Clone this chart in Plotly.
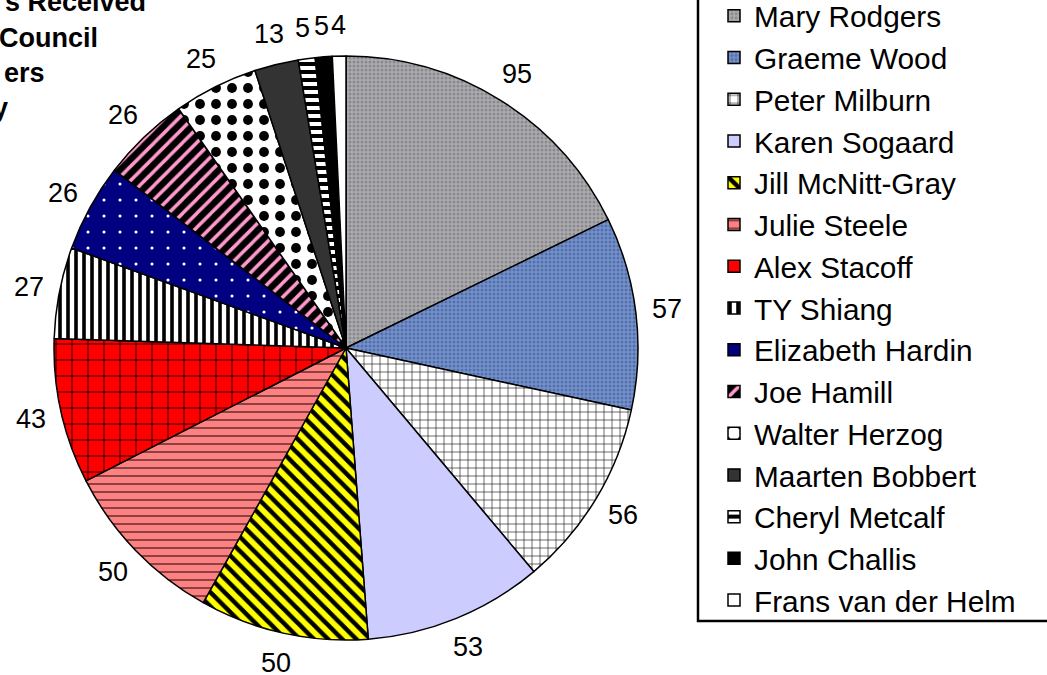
import math
import plotly.graph_objects as go

names = ["Mary Rodgers", "Graeme Wood", "Peter Milburn", "Karen Sogaard",
         "Jill McNitt-Gray", "Julie Steele", "Alex Stacoff", "TY Shiang",
         "Elizabeth Hardin", "Joe Hamill", "Walter Herzog", "Maarten Bobbert",
         "Cheryl Metcalf", "John Challis", "Frans van der Helm"]
votes = [95, 57, 56, 53, 50, 50, 43, 27, 26, 26, 25, 13, 5, 5, 4]
title_parts = ["s Received", "Council", "ers", "y"]

bg = ["#ADADB1", "#7592CC", "#FFFFFF", "#CCCCFF", "#FFFF00", "#FF8080", "#FF0000",
      "#FFFFFF", "#000080", "#000000", "#FFFFFF", "#333333", "#000000", "#000000", "#FFFFFF"]
fg = ["#8A8A8E", "#5470AA", "#000000", "#CCCCFF", "#000000", "#000000", "#000000",
      "#000000", "#FFFFFF", "#FF99CC", "#000000", "#333333", "#FFFFFF", "#000000", "#FFFFFF"]
shape = [".", ".", "+", "", "\\", "-", "+", "|", ".", "/", ".", "", "-", "", ""]
psize = [4, 4, 8, 8, 10, 8, 16, 8, 16, 10, 16, 8, 8, 8, 8]
solid = [0.45, 0.45, 0.14, 0.3, 0.45, 0.12, 0.1, 0.45, 0.03, 0.35, 0.3, 0.3, 0.5, 0.3, 0.3]

W, H = 1047, 675
cx, cy, r = 346, 348, 292
label_r = 323
FONT = "Liberation Sans, Arial"

fig = go.Figure(go.Pie(
    labels=names, values=votes, sort=False, direction="clockwise", rotation=0,
    textinfo="none",
    marker=dict(colors=bg, line=dict(color="#000000", width=1.5),
                pattern=dict(shape=shape, fgcolor=fg, bgcolor=bg, size=psize,
                             solidity=solid, fillmode="replace")),
    domain=dict(x=[(cx - r) / W, (cx + r) / W], y=[(H - cy - r) / H, (H - cy + r) / H]),
    showlegend=True,
))

# value labels outside each slice, placed from the data (clockwise from 12 o'clock)
total = sum(votes)
cum = 0
for v in votes:
    mid = (cum + v / 2) / total * 2 * math.pi
    cum += v
    px = cx + label_r * math.sin(mid)
    py = cy - label_r * math.cos(mid)
    fig.add_annotation(text=str(v), xref="paper", yref="paper",
                       x=px / W, y=1 - py / H, xanchor="center", yanchor="middle",
                       showarrow=False, font=dict(family=FONT, size=27, color="#000000"))

# title (cropped at left/top in the reference)
ends = [148, 100, 47, 10]
bases = [-15, 21, 56, 91]
for t, xe, yb in zip(title_parts, ends, bases):
    fig.add_annotation(text="<b>" + t + "</b>", xref="paper", yref="paper",
                       x=xe / W, y=1 - yb / H, xanchor="right", yanchor="top",
                       showarrow=False,
                       font=dict(family=FONT, size=27, color="#000000"))

# legend frame (extends beyond top/right edges)
fig.add_shape(type="rect", xref="paper", yref="paper",
              x0=698 / W, x1=1.05, y0=1 - 621 / H, y1=1.05,
              line=dict(color="#000000", width=2.5), fillcolor="rgba(0,0,0,0)")

fig.update_layout(
    width=W, height=H,
    margin=dict(l=0, r=0, t=0, b=0, autoexpand=False),
    paper_bgcolor="#FFFFFF", plot_bgcolor="#FFFFFF",
    legend=dict(x=714 / W, y=1.015, xanchor="left", yanchor="top",
                font=dict(family=FONT, size=29.8, color="#000000"),
                bgcolor="rgba(0,0,0,0)", borderwidth=0, tracegroupgap=0,
                maxheight=700),
)

fig.write_html("out.html", config={"displayModeBar": False},
               post_script="document.body.style.margin='0';document.body.style.overflow='hidden';")
